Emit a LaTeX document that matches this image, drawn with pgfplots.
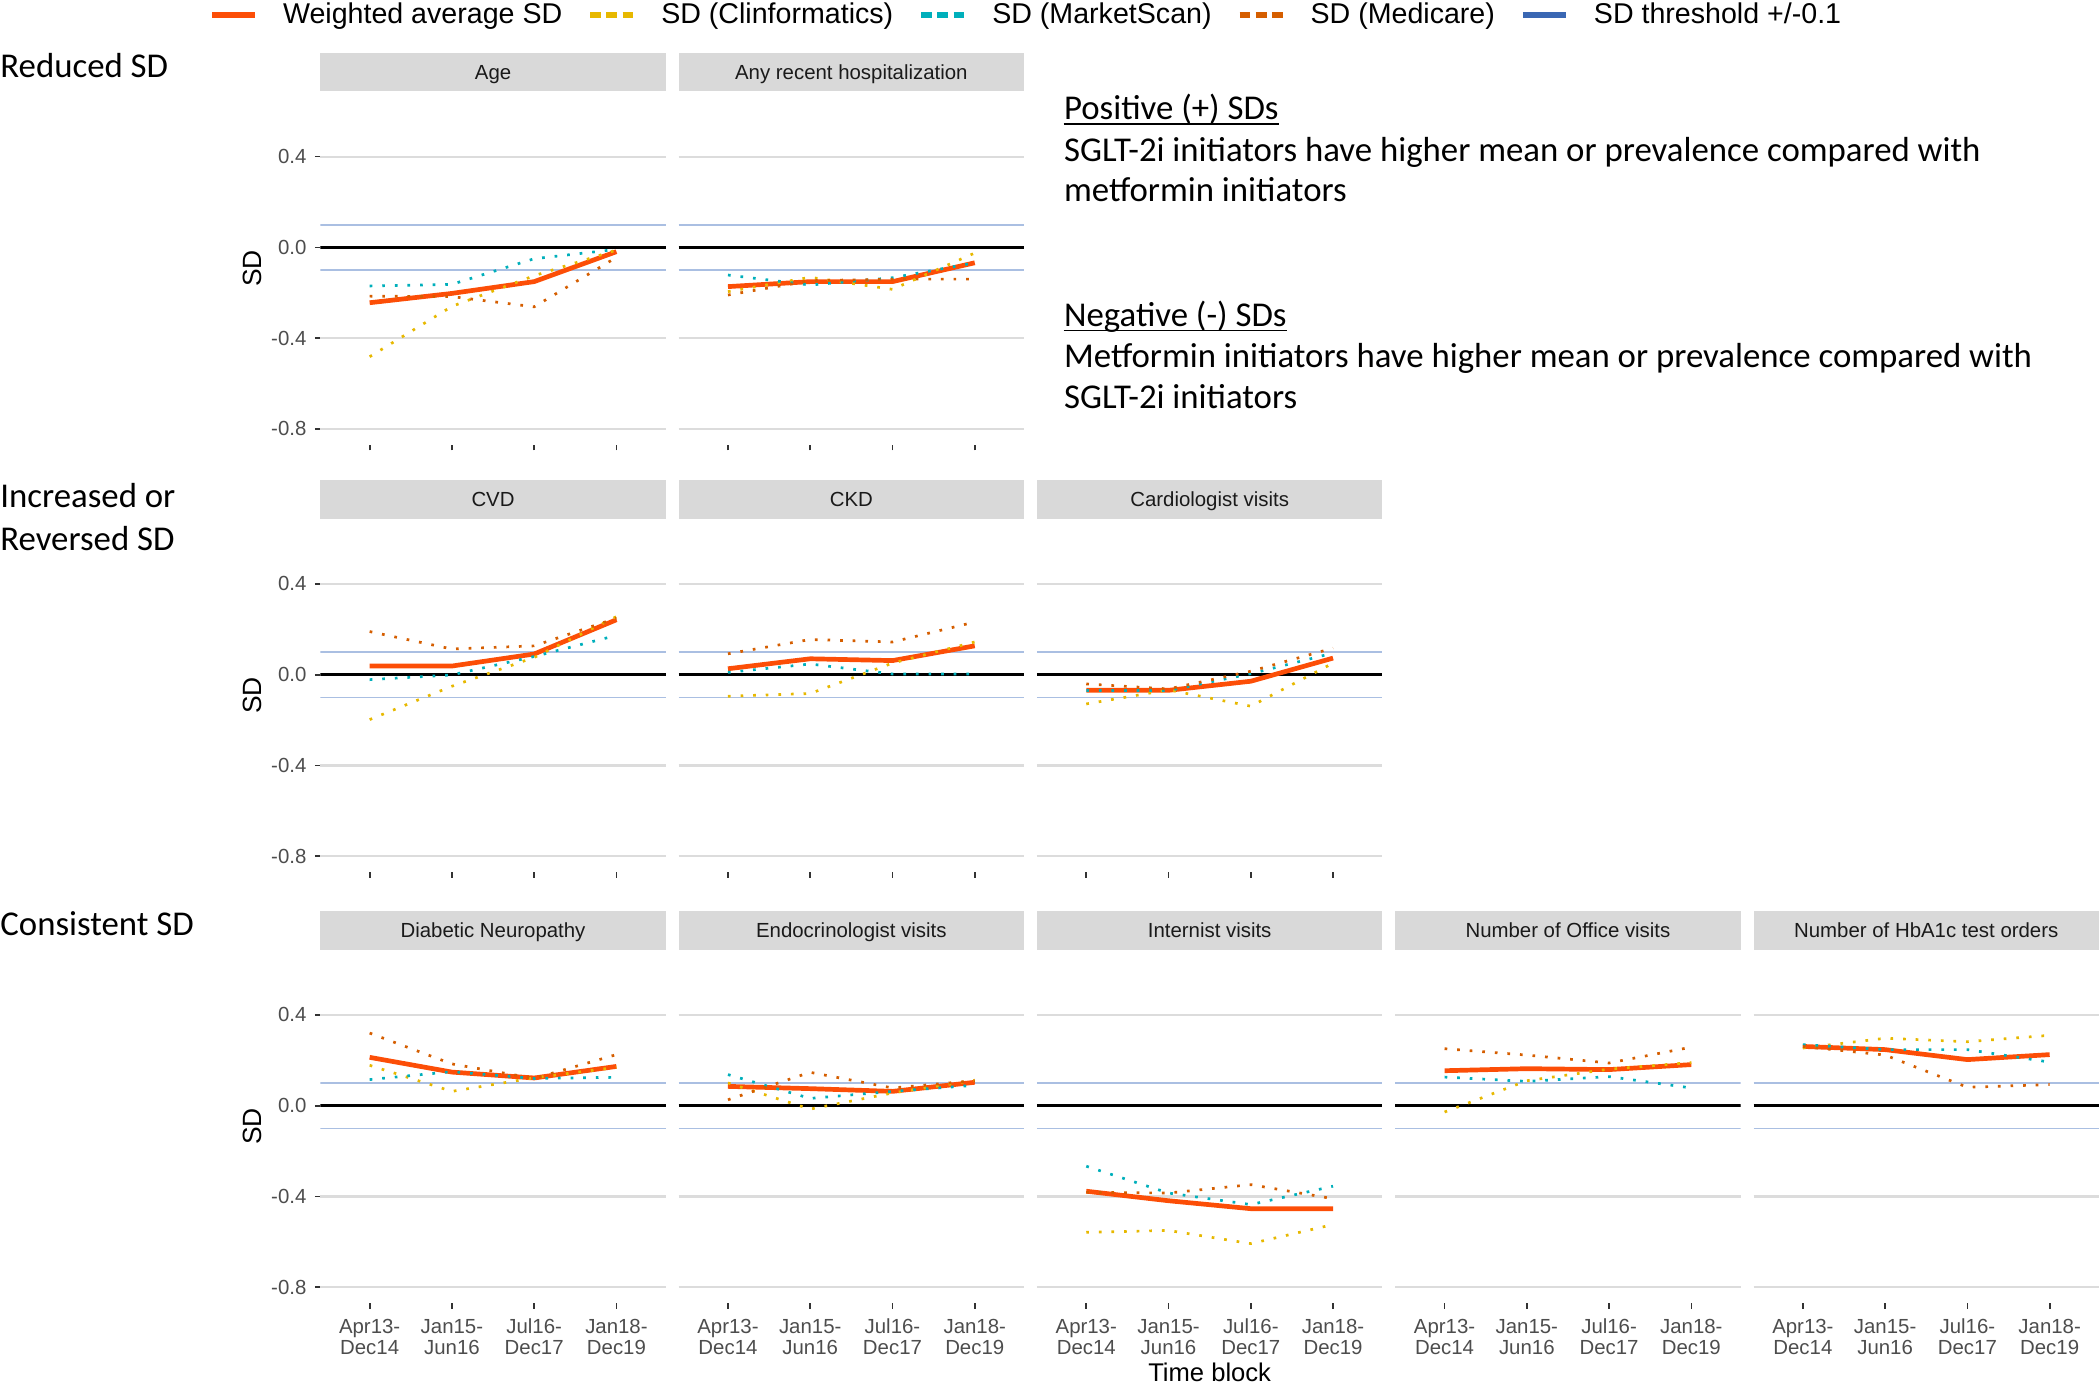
\documentclass[border=0pt]{standalone}
\usepackage{pgfplots}
\usepackage{pgfplotstable}
\pgfplotsset{compat=1.18}
\usepackage{fontspec}
\setmainfont{Liberation Sans}
\newfontfamily\calibri{Carlito}

\definecolor{wavg}{HTML}{FC4E07}
\definecolor{clin}{HTML}{E7B800}
\definecolor{mkt}{HTML}{00AFBB}
\definecolor{medi}{HTML}{D55E00}
\definecolor{thr}{HTML}{3A67B3}
\definecolor{thrl}{HTML}{AABFE2}
\definecolor{gridc}{HTML}{DCDCDC}
\definecolor{stripc}{HTML}{D9D9D9}
\definecolor{tickc}{HTML}{4D4D4D}
\definecolor{tickm}{HTML}{333333}
\definecolor{stript}{HTML}{1A1A1A}

% columns: x, Weighted average, Clinformatics, MarketScan, Medicare
\pgfplotstableread{
x W C M Med
1 -0.244 -0.482 -0.170 -0.215
2 -0.203 -0.260 -0.163 -0.217
3 -0.151 -0.125 -0.050 -0.262
4 -0.019 -0.012 -0.009 -0.044
}\tAge
\pgfplotstableread{
x W C M Med
1 -0.173 -0.195 -0.122 -0.210
2 -0.151 -0.132 -0.166 -0.147
3 -0.151 -0.185 -0.134 -0.140
4 -0.068 -0.025 -0.068 -0.140
}\tHosp
\pgfplotstableread{
x W C M Med
1 0.038 -0.198 -0.022 0.190
2 0.038 -0.051 -0.001 0.113
3 0.091 0.076 0.080 0.127
4 0.242 0.256 0.173 0.249
}\tCVD
\pgfplotstableread{
x W C M Med
1 0.026 -0.095 0.010 0.092
2 0.070 -0.083 0.047 0.155
3 0.062 0.051 0.003 0.144
4 0.127 0.144 0.003 0.232
}\tCKD
\pgfplotstableread{
x W C M Med
1 -0.069 -0.129 -0.070 -0.041
2 -0.069 -0.067 -0.070 -0.063
3 -0.029 -0.139 0.004 0.015
4 0.073 0.051 0.095 0.117
}\tCardio
\pgfplotstableread{
x W C M Med
1 0.213 0.178 0.115 0.320
2 0.148 0.063 0.150 0.184
3 0.122 0.123 0.120 0.120
4 0.173 0.169 0.125 0.225
}\tNeuro
\pgfplotstableread{
x W C M Med
1 0.085 0.100 0.137 0.026
2 0.075 -0.015 0.032 0.147
3 0.063 0.056 0.063 0.078
4 0.103 0.112 0.090 0.110
}\tEndo
\pgfplotstableread{
x W C M Med
1 -0.377 -0.558 -0.267 -0.382
2 -0.419 -0.550 -0.385 -0.385
3 -0.454 -0.608 -0.436 -0.348
4 -0.454 -0.524 -0.355 -0.410
}\tIntern
\pgfplotstableread{
x W C M Med
1 0.154 -0.028 0.126 0.251
2 0.163 0.110 0.107 0.223
3 0.159 0.161 0.128 0.188
4 0.181 0.190 0.078 0.258
}\tOffice
\pgfplotstableread{
x W C M Med
1 0.261 0.254 0.269 0.261
2 0.247 0.297 0.247 0.223
3 0.203 0.282 0.247 0.081
4 0.225 0.310 0.192 0.093
}\tHba

\pgfplotsset{
  dotline/.style={line width=1.35pt, dash pattern=on 1.35pt off 4.95pt},
  panel/.style={
    scale only axis, width=172.75pt, height=176.65pt,
    xmin=0.4, xmax=4.6, ymin=-0.871, ymax=0.686,
    xtick={1,2,3,4}, ytick={-0.8,-0.4,0,0.4},
    ymajorgrids, major grid style={gridc, line width=1.1pt},
    axis line style={draw=none},
    tickpos=left, tick align=outside,
    major tick length=2.75pt,
    xtick style={draw=tickm, line width=0.85pt},
    ytick style={draw=none},
    xticklabels={}, yticklabels={},
    every axis title/.style={at={(0.5,1)}, anchor=south, fill=stripc,
      minimum width=172.75pt, minimum height=19.2pt, inner sep=0pt,
      text height=7.3pt, text depth=0pt,
      font=\fontsize{10.2}{12}\selectfont, text=stript},
    yticklabel style={font=\fontsize{10.2}{12}\selectfont, text=tickc, inner sep=0pt, xshift=-4pt},
    xticklabel style={font=\fontsize{10.2}{10.5}\selectfont, text=tickc, inner sep=0pt, align=center, yshift=-5pt},
  },
  firstcol/.style={
    yticklabels={-0.8,-0.4,0.0,0.4},
    ytick style={draw=tickm, line width=0.85pt},
    ylabel={SD},
    ylabel style={at={(axis description cs:-0.1977,0.5)}, anchor=center, font=\fontsize{13.2}{15}\selectfont},
  },
  bottomrow/.style={
    xticklabels={{Apr13-\\Dec14},{Jan15-\\Jun16},{Jul16-\\Dec17},{Jan18-\\Dec19}},
  },
}

\newcommand{\panelplots}[1]{%
  \addplot[forget plot, thrl, line width=0.85pt] coordinates {(0.4,0.1) (4.6,0.1)};
  \addplot[forget plot, thrl, line width=0.85pt] coordinates {(0.4,-0.1) (4.6,-0.1)};
  \addplot[forget plot, black, line width=1.25pt] coordinates {(0.4,0) (4.6,0)};
  \addplot[forget plot, wavg, line width=2.35pt, line join=round] table[x=x, y=W] {#1};
  \addplot[forget plot, clin, dotline] table[x=x, y=C] {#1};
  \addplot[forget plot, mkt, dotline] table[x=x, y=M] {#1};
  \addplot[forget plot, medi, dotline] table[x=x, y=Med] {#1};
}
\newcommand{\panel}[5]{%
  \begin{axis}[panel, at={(#1,#2)}, anchor=north west, title={#3}, #4]
    \panelplots{#5}
  \end{axis}}

\begin{document}
\begin{tikzpicture}
\path[use as bounding box] (0pt,0pt) rectangle (1050pt,-691.5pt);

% Row 1
\begin{axis}[panel, firstcol, at={(160.15pt,-45.85pt)}, anchor=north west, title={Age},
  legend columns=-1,
  legend image code/.code={\draw[#1] (0pt,0pt) -- (21.5pt,0pt);},
  legend style={draw=none, fill=none, at={(2.04,1.218)}, anchor=center,
    font=\fontsize{14.3}{17}\selectfont, column sep=12.5pt, inner sep=0pt,
    nodes={inner sep=0pt}},
  ]
  \addlegendimage{wavg, line width=3pt}
  \addlegendentry{Weighted average SD}
  \addlegendimage{clin, line width=3pt, dash pattern=on 5.4pt off 2.65pt}
  \addlegendentry{SD (Clinformatics)}
  \addlegendimage{mkt, line width=3pt, dash pattern=on 5.4pt off 2.65pt}
  \addlegendentry{SD (MarketScan)}
  \addlegendimage{medi, line width=3pt, dash pattern=on 5.4pt off 2.65pt}
  \addlegendentry{SD (Medicare)}
  \addlegendimage{thr, line width=3pt}
  \addlegendentry{SD threshold +/-0.1}
  \panelplots{\tAge}
\end{axis}
\panel{339.3pt}{-45.85pt}{Any recent hospitalization}{}{\tHosp}

% Row 2
\panel{160.15pt}{-259.5pt}{CVD}{firstcol}{\tCVD}
\panel{339.3pt}{-259.5pt}{CKD}{}{\tCKD}
\panel{518.45pt}{-259.5pt}{Cardiologist visits}{}{\tCardio}

% Row 3
\panel{160.15pt}{-475pt}{Diabetic Neuropathy}{firstcol, bottomrow}{\tNeuro}
\panel{339.3pt}{-475pt}{Endocrinologist visits}{bottomrow}{\tEndo}
\panel{518.45pt}{-475pt}{Internist visits}{bottomrow, xlabel={Time block},
  xlabel style={at={(axis description cs:0.5,-0.2200)}, anchor=base, font=\fontsize{12.8}{15}\selectfont}}{\tIntern}
\panel{697.6pt}{-475pt}{Number of Office visits}{bottomrow}{\tOffice}
\panel{876.75pt}{-475pt}{Number of HbA1c test orders}{bottomrow}{\tHba}

% Group labels and explanation
\begin{scope}[every node/.style={anchor=base west, inner sep=0pt, font=\calibri\fontsize{17.4}{20}\selectfont}]
  \node at (0pt,-38.65pt) {Reduced SD};
  \node at (0pt,-253.5pt) {Increased or};
  \node at (0pt,-275pt) {Reversed SD};
  \node at (0pt,-467.5pt) {Consistent SD};
  \node (pos) at (531.85pt,-59.65pt) {Positive (+) SDs};
  \node at (531.85pt,-80.5pt) {SGLT-2i initiators have higher mean or prevalence compared with};
  \node at (531.85pt,-100.85pt) {metformin initiators};
  \node (neg) at (531.85pt,-163pt) {Negative (-) SDs};
  \node at (531.85pt,-183.65pt) {Metformin initiators have higher mean or prevalence compared with};
  \node at (531.85pt,-204.15pt) {SGLT-2i initiators};
\end{scope}
\draw[line width=0.85pt] ([yshift=-2.3pt]pos.base west) -- ([yshift=-2.3pt]pos.base east);
\draw[line width=0.85pt] ([yshift=-2.3pt]neg.base west) -- ([yshift=-2.3pt]neg.base east);
\end{tikzpicture}
\end{document}
